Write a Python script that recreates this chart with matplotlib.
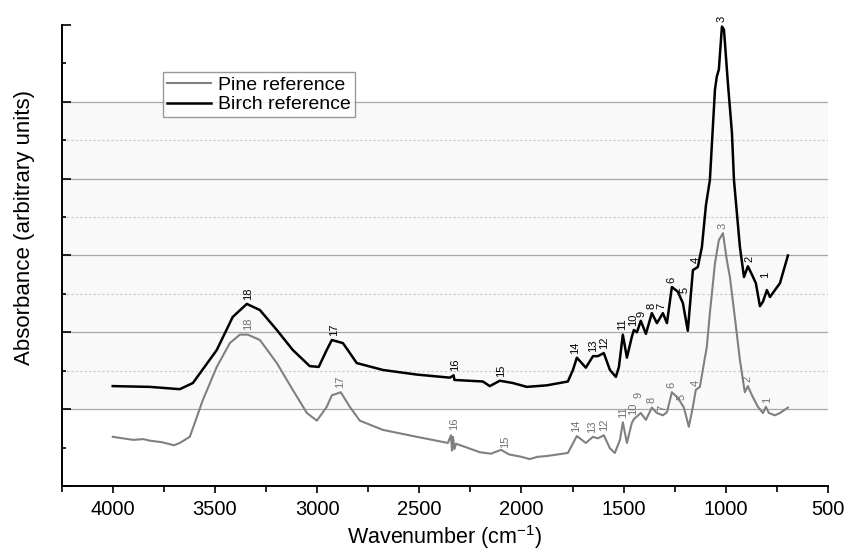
import numpy as np
import matplotlib
matplotlib.use("Agg")
import matplotlib.pyplot as plt

plt.rcParams['font.family'] = ['Liberation Sans', 'DejaVu Sans']
plt.rcParams['mathtext.fontset'] = 'custom'
plt.rcParams['mathtext.rm'] = 'Liberation Sans'
plt.rcParams['mathtext.default'] = 'regular'

# ---------------- data ----------------
birch_wn = [4000, 3819, 3672, 3608, 3491, 3413, 3344, 3280, 3197, 3119, 3036, 2992,
            2953, 2928, 2874, 2850, 2806, 2678, 2512, 2350, 2332, 2328, 2189, 2155,
            2106, 2042, 1974, 1876, 1773, 1748, 1729, 1685, 1650, 1626, 1597, 1567,
            1538, 1523, 1504, 1484, 1460, 1450, 1435, 1416, 1391, 1362, 1337, 1308,
            1288, 1264, 1235, 1210, 1186, 1161, 1137, 1117, 1097, 1078, 1053, 1044,
            1034, 1019, 1009, 990, 970, 960, 931, 911, 892, 872, 853, 833, 818, 799,
            784, 735, 696]
birch_abs = [1.30, 1.29, 1.26, 1.34, 1.77, 2.20, 2.37, 2.29, 2.03, 1.77, 1.56, 1.55,
             1.77, 1.90, 1.86, 1.77, 1.60, 1.51, 1.45, 1.41, 1.44, 1.38, 1.36, 1.30,
             1.37, 1.34, 1.29, 1.31, 1.36, 1.51, 1.67, 1.54, 1.69, 1.69, 1.73, 1.51,
             1.42, 1.55, 1.97, 1.67, 1.94, 2.03, 2.00, 2.15, 1.98, 2.25, 2.12, 2.25,
             2.12, 2.59, 2.53, 2.38, 2.02, 2.81, 2.85, 3.11, 3.66, 3.98, 5.16, 5.33,
             5.42, 5.98, 5.94, 5.25, 4.60, 3.98, 3.11, 2.72, 2.86, 2.75, 2.64, 2.34,
             2.40, 2.55, 2.46, 2.64, 3.00]

pine_wn = [4000, 3950, 3900, 3850, 3819, 3760, 3700, 3672, 3623, 3559, 3491, 3427,
           3378, 3339, 3280, 3197, 3119, 3050, 3001, 2953, 2928, 2884, 2840, 2791,
           2678, 2512, 2360, 2345, 2340, 2335, 2328, 2320, 2204, 2150, 2100, 2060,
           2000, 1960, 1920, 1876, 1773, 1729, 1685, 1650, 1626, 1597, 1567, 1543,
           1518, 1504, 1484, 1460, 1450, 1416, 1391, 1362, 1337, 1308, 1288, 1264,
           1235, 1205, 1181, 1161, 1147, 1127, 1093, 1078, 1053, 1034, 1014, 995,
           980, 956, 931, 907, 892, 872, 843, 818, 804, 789, 760, 735, 696]
pine_abs = [0.64, 0.62, 0.60, 0.61, 0.59, 0.57, 0.53, 0.56, 0.64, 1.12, 1.55, 1.86,
            1.97, 1.97, 1.90, 1.60, 1.25, 0.95, 0.85, 1.03, 1.18, 1.22, 1.03, 0.85,
            0.73, 0.64, 0.56, 0.66, 0.46, 0.64, 0.48, 0.55, 0.44, 0.42, 0.47, 0.41,
            0.38, 0.35, 0.38, 0.39, 0.43, 0.65, 0.56, 0.64, 0.62, 0.66, 0.49, 0.43,
            0.60, 0.83, 0.56, 0.82, 0.87, 0.95, 0.86, 1.02, 0.95, 0.92, 0.96, 1.22,
            1.15, 1.02, 0.77, 1.03, 1.25, 1.29, 1.81, 2.25, 2.90, 3.20, 3.29, 2.94,
            2.72, 2.20, 1.64, 1.22, 1.30, 1.18, 1.03, 0.95, 1.03, 0.95, 0.92, 0.95,
            1.02]

peak_numbers = ['18', '17', '16', '15', '14', '13', '12', '11', '10', '9', '8', '7',
                '6', '5', '4', '3', '2', '1']
birch_peak_wn = [3339, 2918, 2326, 2101, 1739, 1650, 1597, 1509, 1455, 1411, 1362,
                 1313, 1264, 1200, 1146, 1019, 882, 809]
pine_peak_wn = [3339, 2889, 2331, 2081, 1734, 1655, 1597, 1504, 1455, 1425, 1362,
                1308, 1264, 1215, 1146, 1014, 892, 799]

series_names = ['Pine reference', 'Birch reference']
x_ticks = [4000, 3500, 3000, 2500, 2000, 1500, 1000, 500]

# ---------------- figure ----------------
fig = plt.figure(figsize=(8.46, 5.51), dpi=100)
ax = fig.add_axes([0.0729, 0.118, 0.9058, 0.8366])

ax.set_xlim(4250, 500)
ax.set_ylim(0, 6)

# background band and grid
ax.axhspan(1, 5, color='#f9f9f9', zorder=0, lw=0)
for yv in [1, 2, 3, 4, 5]:
    ax.axhline(yv, color='#a8a8a8', lw=0.9, zorder=1)
for yv in [1.5, 2.5, 3.5, 4.5]:
    ax.axhline(yv, color='#c8c8c8', lw=0.8, ls=(0, (2, 2)), zorder=1)

ax.plot(pine_wn, pine_abs, color='#808080', lw=1.5, label=series_names[0], zorder=3,
        solid_joinstyle='round')
ax.plot(birch_wn, birch_abs, color='black', lw=1.8, label=series_names[1], zorder=4,
        solid_joinstyle='round')


def label_peaks(wn, ab, peaks, color, extra):
    wn_arr = np.array(wn)[::-1]
    ab_arr = np.array(ab)[::-1]
    for txt, p in zip(peak_numbers, peaks):
        mask = (wn_arr >= p - 12) & (wn_arr <= p + 12)
        yv = np.interp(p, wn_arr, ab_arr)
        if mask.any():
            yv = max(yv, ab_arr[mask].max())
        ax.annotate(txt, (p, yv), xytext=(0, 3 + extra.get(txt, 0)),
                    textcoords='offset points', rotation=90, ha='center',
                    va='bottom', fontsize=8, color=color, zorder=5)


label_peaks(birch_wn, birch_abs, birch_peak_wn, 'black', {'1': 6, '5': 4})
label_peaks(pine_wn, pine_abs, pine_peak_wn, '#707070', {'9': 8, '16': 2})

# axes styling
for s in ['top', 'right']:
    ax.spines[s].set_visible(False)
for s in ['left', 'bottom']:
    ax.spines[s].set_linewidth(1.4)

ax.set_xticks(x_ticks)
ax.set_xticks(np.arange(4250, 499, -250), minor=True)
ax.set_yticks(np.arange(0, 6.01, 1))
ax.set_yticks(np.arange(0.5, 6, 1), minor=True)
ax.tick_params(axis='x', which='major', direction='out', length=5, width=1.2,
               labelsize=14.5, pad=5)
ax.tick_params(axis='x', which='minor', direction='out', length=4, width=1.2)
ax.tick_params(axis='y', which='major', direction='in', length=6.5, width=1.2,
               labelleft=False)
ax.tick_params(axis='y', which='minor', direction='in', length=3.2, width=1.2)

ax.set_xlabel('Wavenumber (cm$^{-1}$)', fontsize=15.5, labelpad=3)
ax.set_ylabel('Absorbance (arbitrary units)', fontsize=16)
ax.yaxis.set_label_coords(-0.035, 0.56)

leg = ax.legend(loc='upper left', bbox_to_anchor=(0.132, 0.898), borderaxespad=0,
                fontsize=14, frameon=True, fancybox=False, handlelength=2.3,
                handletextpad=0.35, labelspacing=0.12, borderpad=0.2)
leg.get_frame().set_edgecolor('#808080')
leg.get_frame().set_linewidth(1.0)
leg.set_zorder(6)

fig.savefig('out.png', dpi=100)
